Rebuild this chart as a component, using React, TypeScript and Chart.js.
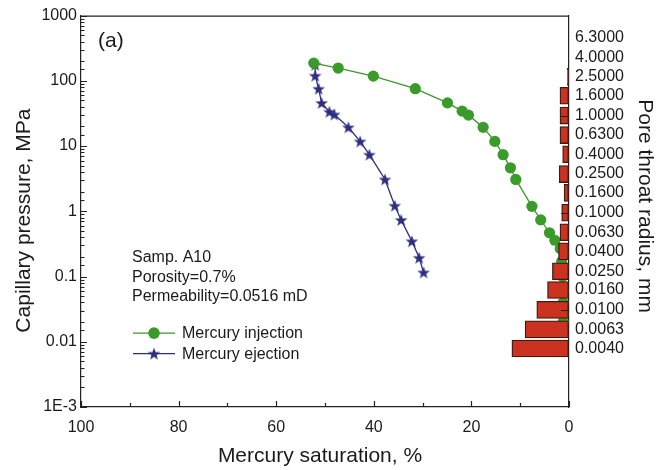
import React, { useEffect, useRef } from 'react';
import { Chart, registerables } from 'chart.js';

Chart.register(...registerables);

// ---------------- data ----------------
const injSaturation = [52.3, 47.3, 40.1, 31.5, 24.9, 21.9, 20.6, 17.6, 15.2, 13.5, 12.0, 10.9, 7.6, 5.8, 4.0, 2.9, 1.8, 1.5, 1.3, 1.2, 1.2, 1.2, 1.2];
const injPressure = [187, 157, 118, 75.7, 45.9, 34.3, 29.8, 19.4, 11.8, 7.38, 4.64, 3.08, 1.19, 0.738, 0.469, 0.36, 0.268, 0.17, 0.1, 0.06, 0.04, 0.027, 0.02];

const ejSaturation = [52.0, 52.0, 51.3, 50.7, 49.1, 48.1, 45.2, 42.8, 40.9, 37.7, 35.7, 34.4, 32.2, 30.7, 29.8];
const ejPressure = [177, 120, 75.7, 45.9, 33.6, 30.5, 19.4, 11.8, 7.38, 3.08, 1.22, 0.738, 0.348, 0.194, 0.116];

const poreRadius = [6.3, 4.0, 2.5, 1.6, 1.0, 0.63, 0.4, 0.25, 0.16, 0.1, 0.063, 0.04, 0.025, 0.016, 0.01, 0.0063, 0.004];
const poreFrequency = [0, 0, 0.35, 1.85, 1.85, 1.85, 1.3, 2.0, 1.0, 1.5, 1.85, 2.15, 3.4, 4.4, 6.6, 9.0, 11.7];

const pressureTickLabels = ['1E-3', '0.01', '0.1', '1', '10', '100', '1000'];
const saturationTickLabels = ['0', '20', '40', '60', '80', '100'];

const seriesNames = ['Mercury injection', 'Mercury ejection'];
const sampleNotes = ['Samp. A10', 'Porosity=0.7%', 'Permeability=0.0516 mD'];
const panelLabel = '(a)';
const xTitle = 'Mercury saturation, %';
const yTitle = 'Capillary pressure, MPa';
const y2Title = 'Pore throat radius, mm';

// ---------------- styles ----------------
const FONT = "'Liberation Sans', Arial, Helvetica, sans-serif";
const TEXT = '#1a1a1a';
const AXIS = '#222222';
const GREEN = '#3a9a2a';
const NAVY = '#2e2e7e';
const BAR_FILL = '#cb3320';
const BAR_EDGE = '#3d1a14';

function makeStar(color: string, outer: number, inner: number) {
  const size = Math.ceil(outer * 2 + 2);
  const c = document.createElement('canvas');
  c.width = size;
  c.height = size;
  const g = c.getContext('2d')!;
  g.fillStyle = color;
  g.beginPath();
  for (let i = 0; i < 10; i++) {
    const r = i % 2 === 0 ? outer : inner;
    const ang = -Math.PI / 2 + (i * Math.PI) / 5;
    const px = size / 2 + r * Math.cos(ang);
    const py = size / 2 + 0.6 + r * Math.sin(ang);
    if (i === 0) g.moveTo(px, py);
    else g.lineTo(px, py);
  }
  g.closePath();
  g.fill();
  return c;
}

const isDecade = (v: number) => {
  const e = Math.log10(v);
  return Math.abs(e - Math.round(e)) < 1e-6;
};

export default function App() {
  const ref = useRef<HTMLCanvasElement | null>(null);

  useEffect(() => {
    if (!ref.current) return;
    const star = makeStar(NAVY, 6.6, 2.7);

    const decorPlugin = {
      id: 'decor',
      afterDatasetsDraw(chart: any) {
        const { ctx, chartArea: a, scales } = chart;
        ctx.save();
        ctx.strokeStyle = AXIS;
        ctx.lineWidth = 1.2;
        ctx.beginPath();
        ctx.moveTo(a.left, a.top + 0.5);
        ctx.lineTo(a.right, a.top + 0.5);
        // bottom inner ticks
        scales.x.ticks.forEach((t: any) => {
          const px = Math.round(scales.x.getPixelForValue(t.value)) + 0.5;
          const len = t.value % 20 === 0 ? 6 : 4;
          ctx.moveTo(px, a.bottom);
          ctx.lineTo(px, a.bottom - len);
        });
        // left inner ticks
        scales.y.ticks.forEach((t: any) => {
          const py = Math.round(scales.y.getPixelForValue(t.value)) + 0.5;
          const len = isDecade(t.value) ? 6 : 3.5;
          ctx.moveTo(a.left, py);
          ctx.lineTo(a.left + len, py);
        });
        // right decade ticks
        const yr = scales.yr;
        const e0 = Math.ceil(Math.log10(yr.min));
        const e1 = Math.floor(Math.log10(yr.max));
        for (let e = e0; e <= e1; e++) {
          const py = Math.round(yr.getPixelForValue(Math.pow(10, e))) + 0.5;
          if (py < a.top + 5 || py > a.bottom - 5) continue;
          ctx.moveTo(a.right, py);
          ctx.lineTo(a.right - 8, py);
        }
        ctx.stroke();
        ctx.restore();
      },
      afterDraw(chart: any) {
        const { ctx, chartArea: a } = chart;
        ctx.save();
        ctx.fillStyle = TEXT;
        // panel label
        ctx.font = `21px ${FONT}`;
        ctx.textAlign = 'left';
        ctx.textBaseline = 'middle';
        ctx.fillText(panelLabel, a.left + 17, a.top + 26);
        // sample notes
        ctx.font = `16px ${FONT}`;
        sampleNotes.forEach((s, i) => {
          ctx.fillText(s, a.left + 51, a.top + 242 + i * 19.5);
        });
        // legend
        const items = [
          { name: seriesNames[0], color: GREEN, y: a.top + 317.5, kind: 'circle' },
          { name: seriesNames[1], color: NAVY, y: a.top + 338, kind: 'star' },
        ];
        items.forEach((it) => {
          ctx.strokeStyle = it.color;
          ctx.lineWidth = 1.3;
          ctx.beginPath();
          ctx.moveTo(a.left + 52, it.y);
          ctx.lineTo(a.left + 94, it.y);
          ctx.stroke();
          const cx = a.left + 73;
          if (it.kind === 'circle') {
            ctx.fillStyle = it.color;
            ctx.beginPath();
            ctx.arc(cx, it.y, 5.8, 0, Math.PI * 2);
            ctx.fill();
          } else {
            ctx.drawImage(star, cx - star.width / 2, it.y - star.height / 2);
          }
          ctx.fillStyle = TEXT;
          ctx.font = `16px ${FONT}`;
          ctx.textAlign = 'left';
          ctx.textBaseline = 'middle';
          ctx.fillText(it.name, a.left + 101, it.y + 0.5);
        });
        // axis titles
        ctx.fillStyle = TEXT;
        ctx.textAlign = 'center';
        ctx.textBaseline = 'middle';
        ctx.font = `21px ${FONT}`;
        ctx.fillText(xTitle, (a.left + a.right) / 2 - 5, a.bottom + 49);
        ctx.save();
        ctx.translate(24, a.top + 205);
        ctx.rotate(-Math.PI / 2);
        ctx.font = `21px ${FONT}`;
        ctx.fillText(yTitle, 0, 0);
        ctx.restore();
        ctx.save();
        ctx.translate(a.right + 76, a.top + 190.5);
        ctx.rotate(Math.PI / 2);
        ctx.font = `21px ${FONT}`;
        ctx.fillText(y2Title, 0, 0);
        ctx.restore();
        ctx.restore();
      },
    };

    const chart = new Chart(ref.current, {
      type: 'line',
      data: {
        datasets: [
          {
            type: 'bar',
            indexAxis: 'y',
            xAxisID: 'x',
            yAxisID: 'yr',
            order: 0,
            data: poreRadius.map((r, i) => ({ x: poreFrequency[i], y: r })),
            backgroundColor: BAR_FILL,
            borderColor: BAR_EDGE,
            borderWidth: 1.3,
            borderSkipped: false,
            barThickness: 17,
          } as any,
          {
            type: 'line',
            label: seriesNames[0],
            xAxisID: 'x',
            yAxisID: 'y',
            order: 1,
            data: injSaturation.map((s, i) => ({ x: s, y: injPressure[i] })),
            borderColor: GREEN,
            backgroundColor: GREEN,
            borderWidth: 1.3,
            pointStyle: 'circle',
            pointRadius: 5.6,
            pointBorderWidth: 0,
            pointBackgroundColor: GREEN,
            tension: 0,
          },
          {
            type: 'line',
            label: seriesNames[1],
            xAxisID: 'x',
            yAxisID: 'y',
            order: 2,
            data: ejSaturation.map((s, i) => ({ x: s, y: ejPressure[i] })),
            borderColor: NAVY,
            backgroundColor: NAVY,
            borderWidth: 1.3,
            pointStyle: star as any,
            pointRadius: 6,
            tension: 0,
          },
        ],
      },
      options: {
        responsive: false,
        animation: false,
        events: [],
        layout: { padding: { top: 11, left: 0, right: 0, bottom: 0 } },
        plugins: { legend: { display: false }, tooltip: { enabled: false } },
        scales: {
          x: {
            type: 'linear',
            position: 'bottom',
            min: 0,
            max: 100,
            reverse: true,
            afterFit: (s: any) => { s.height = 63; },
            ticks: {
              stepSize: 10,
              autoSkip: false,
              maxRotation: 0,
              padding: 11,
              color: TEXT,
              font: { family: FONT, size: 16 },
              callback: (v: any) => {
                const n = Number(v);
                return n % 20 === 0 ? saturationTickLabels[n / 20] : '';
              },
            },
            grid: { display: true, drawOnChartArea: false, drawTicks: false },
            border: { display: true, color: AXIS, width: 1.2 },
          },
          y: {
            type: 'logarithmic',
            position: 'left',
            min: 0.001,
            max: 1000,
            afterFit: (s: any) => { s.width = 81; },
            ticks: {
              autoSkip: false,
              padding: 4,
              color: TEXT,
              font: { family: FONT, size: 16 },
              callback: (v: any) => {
                const n = Number(v);
                if (!isDecade(n)) return '';
                return pressureTickLabels[Math.round(Math.log10(n)) + 3];
              },
            },
            grid: { display: true, drawOnChartArea: false, drawTicks: false },
            border: { display: true, color: AXIS, width: 1.2 },
          },
          yr: {
            type: 'logarithmic',
            position: 'right',
            min: 0.001,
            max: 10.7,
            afterFit: (s: any) => { s.width = 101; },
            afterBuildTicks: (s: any) => {
              s.ticks = poreRadius.map((v) => ({ value: v }));
            },
            ticks: {
              autoSkip: false,
              padding: 6,
              color: TEXT,
              font: { family: FONT, size: 16 },
              callback: (v: any) => Number(v).toFixed(4),
            },
            grid: { display: true, drawOnChartArea: false, drawTicks: false },
            border: { display: true, color: AXIS, width: 1.2 },
          },
        },
      } as any,
      plugins: [decorPlugin],
    });

    return () => chart.destroy();
  }, []);

  return (
    <div style={{ position: 'fixed', left: 0, top: 0, width: 670, height: 470, background: '#fff' }}>
      <canvas ref={ref} width={670} height={470} style={{ display: 'block', width: 670, height: 470 }} />
    </div>
  );
}
